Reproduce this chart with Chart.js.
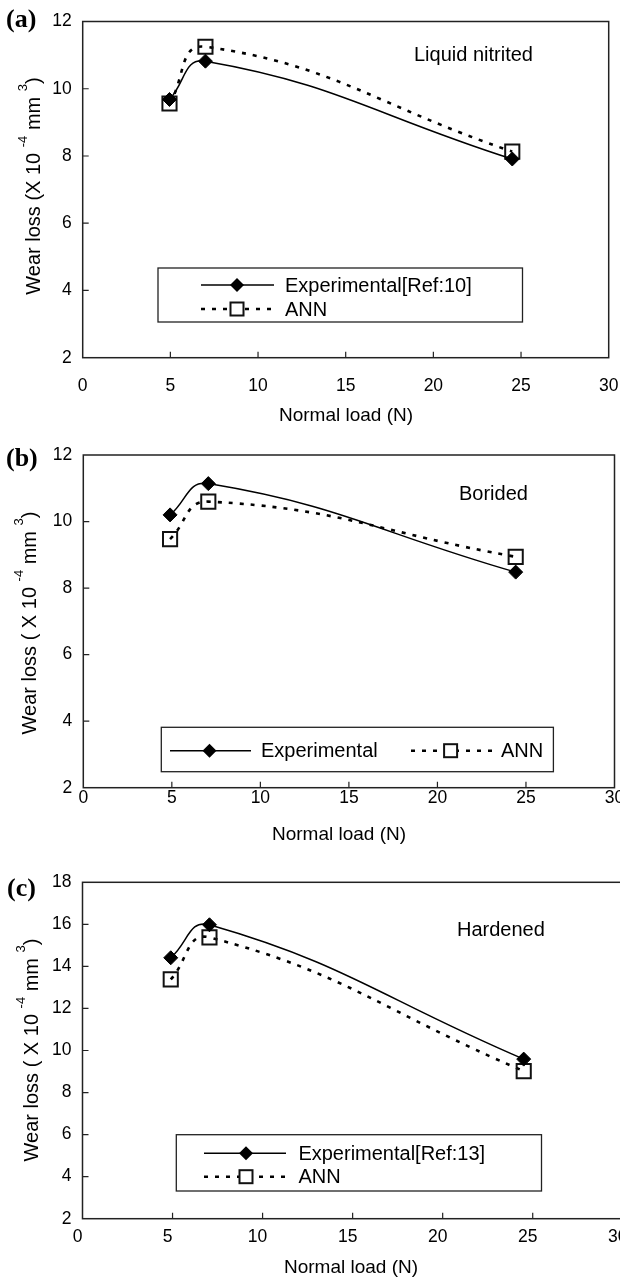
<!DOCTYPE html>
<html>
<head>
<meta charset="utf-8">
<title>Wear loss vs normal load</title>
<script src="https://cdn.jsdelivr.net/npm/chart.js@4.4.1/dist/chart.umd.min.js"></script>
<style>
    html, body { margin: 0; padding: 0; background: #fff; width: 620px; height: 1278px; overflow: hidden; }
    canvas { position: absolute; left: 0; }
</style>
</head>
<body>
<canvas id="chartA" width="640" height="425" style="top:0;width:640px;height:425px"></canvas>
<canvas id="chartB" width="640" height="425" style="top:425px;width:640px;height:425px"></canvas>
<canvas id="chartC" width="640" height="428" style="top:850px;width:640px;height:428px"></canvas>
<script>
// Values: normal load (N) and wear loss (x 10^-4 mm^3)
const loadsA = [4.95, 7.0, 24.5];
const expA = [9.68, 10.82, 7.91];
const annA = [9.56, 11.25, 8.13];

const loadsB = [4.9, 7.06, 24.42];
const expB = [10.2, 11.14, 8.48];
const annB = [9.47, 10.6, 8.94];

const loadsC = [4.9, 7.05, 24.5];
const expC = [14.41, 15.98, 9.59];
const annC = [13.38, 15.38, 9.02];

// Tick labels
const xTicks = [0, 5, 10, 15, 20, 25, 30];
const yTicksAB = [2, 4, 6, 8, 10, 12];
const yTicksC = [2, 4, 6, 8, 10, 12, 14, 16, 18];

const SANS = '"Liberation Sans", Arial, sans-serif';
const SERIF = '"Liberation Serif", "Times New Roman", serif';
const DASH = [4, 7];
const TICK_SIZE = 17.5;

// Draw a legend marker
function drawMarker(ctx, kind, x, y) {
    ctx.save();
    if (kind === "diamond") {
        ctx.beginPath();
        ctx.moveTo(x, y - 7);
        ctx.lineTo(x + 7, y);
        ctx.lineTo(x, y + 7);
        ctx.lineTo(x - 7, y);
        ctx.closePath();
        ctx.fillStyle = "#000";
        ctx.fill();
    } else {
        ctx.fillStyle = "#fff";
        ctx.strokeStyle = "#111";
        ctx.lineWidth = 2;
        ctx.fillRect(x - 6.5, y - 6.5, 13, 13);
        ctx.strokeRect(x - 6.5, y - 6.5, 13, 13);
    }
    ctx.restore();
}

// Y title with superscripts, rotated
function drawYTitle(ctx, parts, bx, cy) {
    ctx.save();
    ctx.translate(bx, cy);
    ctx.rotate(-Math.PI / 2);
    ctx.fillStyle = "#000";
    ctx.textAlign = "left";
    ctx.textBaseline = "alphabetic";
    let total = 0;
    parts.forEach(p => {
        ctx.font = (p.sup ? "13px " : "20px ") + SANS;
        total += ctx.measureText(p.text).width;
    });
    let x = -total / 2;
    parts.forEach(p => {
        ctx.font = (p.sup ? "13px " : "20px ") + SANS;
        ctx.fillText(p.text, x, p.sup ? -13 : 0);
        x += ctx.measureText(p.text).width;
    });
    ctx.restore();
}

// Frame, inward ticks, notes, titles and legend
const decorPlugin = {
    id: "decor",
    afterDraw(chart) {
        const p = chart.config.options.panel;
        const ctx = chart.ctx;
        const a = chart.chartArea;
        const xs = chart.scales.x;
        const ys = chart.scales.y;

        ctx.save();
        ctx.strokeStyle = "#222";
        ctx.lineWidth = 1.5;
        ctx.strokeRect(a.left, a.top, a.right - a.left, a.bottom - a.top);

        ctx.lineWidth = 1.2;
        ctx.beginPath();
        xs.ticks.slice(1, -1).forEach(t => {
            const px = xs.getPixelForValue(t.value);
            ctx.moveTo(px, a.bottom);
            ctx.lineTo(px, a.bottom - 6);
        });
        ys.ticks.slice(1, -1).forEach(t => {
            const py = ys.getPixelForValue(t.value);
            ctx.moveTo(a.left, py);
            ctx.lineTo(a.left + 6, py);
        });
        ctx.stroke();

        // panel letter
        ctx.fillStyle = "#000";
        ctx.textBaseline = "middle";
        ctx.textAlign = "left";
        ctx.font = "bold 26px " + SERIF;
        ctx.fillText(p.letter, p.letterX, p.letterY);

        // treatment label
        ctx.font = "20px " + SANS;
        ctx.fillText(p.note, p.noteX, p.noteY);

        // x title
        ctx.font = "19px " + SANS;
        ctx.textAlign = "center";
        ctx.fillText("Normal load (N)", p.xTitleX, p.xTitleY);

        drawYTitle(ctx, p.yTitle, p.yTitleX, p.yTitleY);

        // legend
        const L = p.legend;
        ctx.fillStyle = "#fff";
        ctx.fillRect(L.box[0], L.box[1], L.box[2] - L.box[0], L.box[3] - L.box[1]);
        ctx.strokeStyle = "#222";
        ctx.lineWidth = 1.3;
        ctx.strokeRect(L.box[0], L.box[1], L.box[2] - L.box[0], L.box[3] - L.box[1]);
        L.items.forEach(it => {
            ctx.save();
            ctx.strokeStyle = "#000";
            if (it.dashed) {
                ctx.lineWidth = 2.6;
                ctx.setLineDash(DASH);
            } else {
                ctx.lineWidth = 1.5;
            }
            ctx.beginPath();
            ctx.moveTo(it.x0, it.y);
            ctx.lineTo(it.x1, it.y);
            ctx.stroke();
            ctx.restore();
            drawMarker(ctx, it.dashed ? "square" : "diamond", it.mx, it.y);
            ctx.fillStyle = "#000";
            ctx.font = "20px " + SANS;
            ctx.textAlign = "left";
            ctx.textBaseline = "middle";
            ctx.fillText(it.label, it.tx, it.y + 1);
        });
        ctx.restore();
    }
};

function makePanel(canvasId, p) {
    const canvas = document.getElementById(canvasId);
    const W = canvas.width, H = canvas.height;
    const a = p.area;
    const xHeight = 56;

    const datasets = [
        {
            label: p.expLabel,
            data: p.loads.map((x, i) => ({ x: x, y: p.exp[i] })),
            borderColor: "#000",
            borderWidth: 1.5,
            tension: 0.45,
            pointStyle: "rectRot",
            pointRadius: 7,
            pointBackgroundColor: "#000",
            pointBorderColor: "#000",
            pointBorderWidth: 1
        },
        {
            label: "ANN",
            data: p.loads.map((x, i) => ({ x: x, y: p.ann[i] })),
            borderColor: "#000",
            borderWidth: 2.6,
            borderDash: DASH,
            tension: 0.45,
            pointStyle: "rect",
            pointRadius: 10,
            pointBackgroundColor: "rgba(255,255,255,0)",
            pointBorderColor: "#111",
            pointBorderWidth: 2
        }
    ];

    return new Chart(canvas, {
        type: "line",
        data: { datasets },
        options: {
            responsive: false,
            animation: false,
            events: [],
            panel: p,
            layout: {
                padding: { left: 0, top: a.top, right: W - a.right, bottom: H - a.bottom - xHeight }
            },
            plugins: { legend: { display: false }, tooltip: { enabled: false } },
            scales: {
                x: {
                    type: "linear",
                    min: xTicks[0],
                    max: xTicks[xTicks.length - 1],
                    afterBuildTicks: s => { s.ticks = xTicks.map(v => ({ value: v })); },
                    afterFit: s => { s.height = xHeight; },
                    grid: { display: false, drawTicks: false },
                    border: { display: false },
                    ticks: {
                        padding: p.xPad,
                        labelOffset: p.xLabelOffset || 0,
                        maxRotation: 0,
                        color: "#000",
                        font: { family: SANS, size: TICK_SIZE }
                    }
                },
                y: {
                    min: p.yTicks[0],
                    max: p.yTicks[p.yTicks.length - 1],
                    afterBuildTicks: s => { s.ticks = p.yTicks.map(v => ({ value: v })); },
                    afterFit: s => { s.width = a.left; },
                    grid: { display: false, drawTicks: false },
                    border: { display: false },
                    ticks: {
                        padding: 11,
                        color: "#000",
                        font: { family: SANS, size: TICK_SIZE }
                    }
                }
            }
        },
        plugins: [decorPlugin]
    });
}

const titleParen = [
    { text: "Wear loss (X 10 " }, { text: "-4", sup: true },
    { text: " mm " }, { text: "3", sup: true }, { text: ")" }
];
const titleSpaced = [
    { text: "Wear loss ( X 10 " }, { text: "-4", sup: true },
    { text: " mm " }, { text: "3", sup: true }, { text: ")" }
];

makePanel("chartA", {
    loads: loadsA, exp: expA, ann: annA, yTicks: yTicksAB,
    expLabel: "Experimental[Ref:10]",
    area: { left: 82.7, right: 608.7, top: 14.7, bottom: 357.7 },
    xPad: 17.8,
    letter: "(a)", letterX: 6, letterY: 20,
    note: "Liquid nitrited", noteX: 414, noteY: 55,
    xTitleX: 346, xTitleY: 416,
    yTitle: titleParen, yTitleX: 40, yTitleY: 186,
    legend: {
        box: [158, 268, 522.5, 322],
        items: [
            { label: "Experimental[Ref:10]", y: 285, x0: 201, x1: 274, mx: 237, tx: 285 },
            { label: "ANN", y: 309, x0: 201, x1: 274, mx: 237, tx: 285, dashed: true }
        ]
    }
});

makePanel("chartB", {
    loads: loadsB, exp: expB, ann: annB, yTicks: yTicksAB,
    expLabel: "Experimental",
    area: { left: 83.3, right: 614.5, top: 30, bottom: 362.7 },
    xPad: 0,
    letter: "(b)", letterX: 6, letterY: 34,
    note: "Borided", noteX: 459, noteY: 69,
    xTitleX: 339, xTitleY: 410,
    yTitle: titleSpaced, yTitleX: 36, yTitleY: 198,
    legend: {
        box: [161.3, 302.3, 553.4, 346.7],
        items: [
            { label: "Experimental", y: 325.7, x0: 170, x1: 251, mx: 209.5, tx: 261 },
            { label: "ANN", y: 325.7, x0: 411, x1: 492, mx: 450.6, tx: 501, dashed: true }
        ]
    }
});

makePanel("chartC", {
    loads: loadsC, exp: expC, ann: annC, yTicks: yTicksC,
    expLabel: "Experimental[Ref:13]",
    area: { left: 82.5, right: 622.8, top: 32.3, bottom: 368.7 },
    xPad: 7.5, xLabelOffset: -5,
    letter: "(c)", letterX: 7, letterY: 39.3,
    note: "Hardened", noteX: 457, noteY: 80,
    xTitleX: 351, xTitleY: 417.7,
    yTitle: titleSpaced, yTitleX: 38, yTitleY: 200,
    legend: {
        box: [176.3, 284.7, 541.5, 341],
        items: [
            { label: "Experimental[Ref:13]", y: 303.3, x0: 204, x1: 286, mx: 246, tx: 298.4 },
            { label: "ANN", y: 326.7, x0: 204, x1: 286, mx: 246, tx: 298.4, dashed: true }
        ]
    }
});
</script>
</body>
</html>
